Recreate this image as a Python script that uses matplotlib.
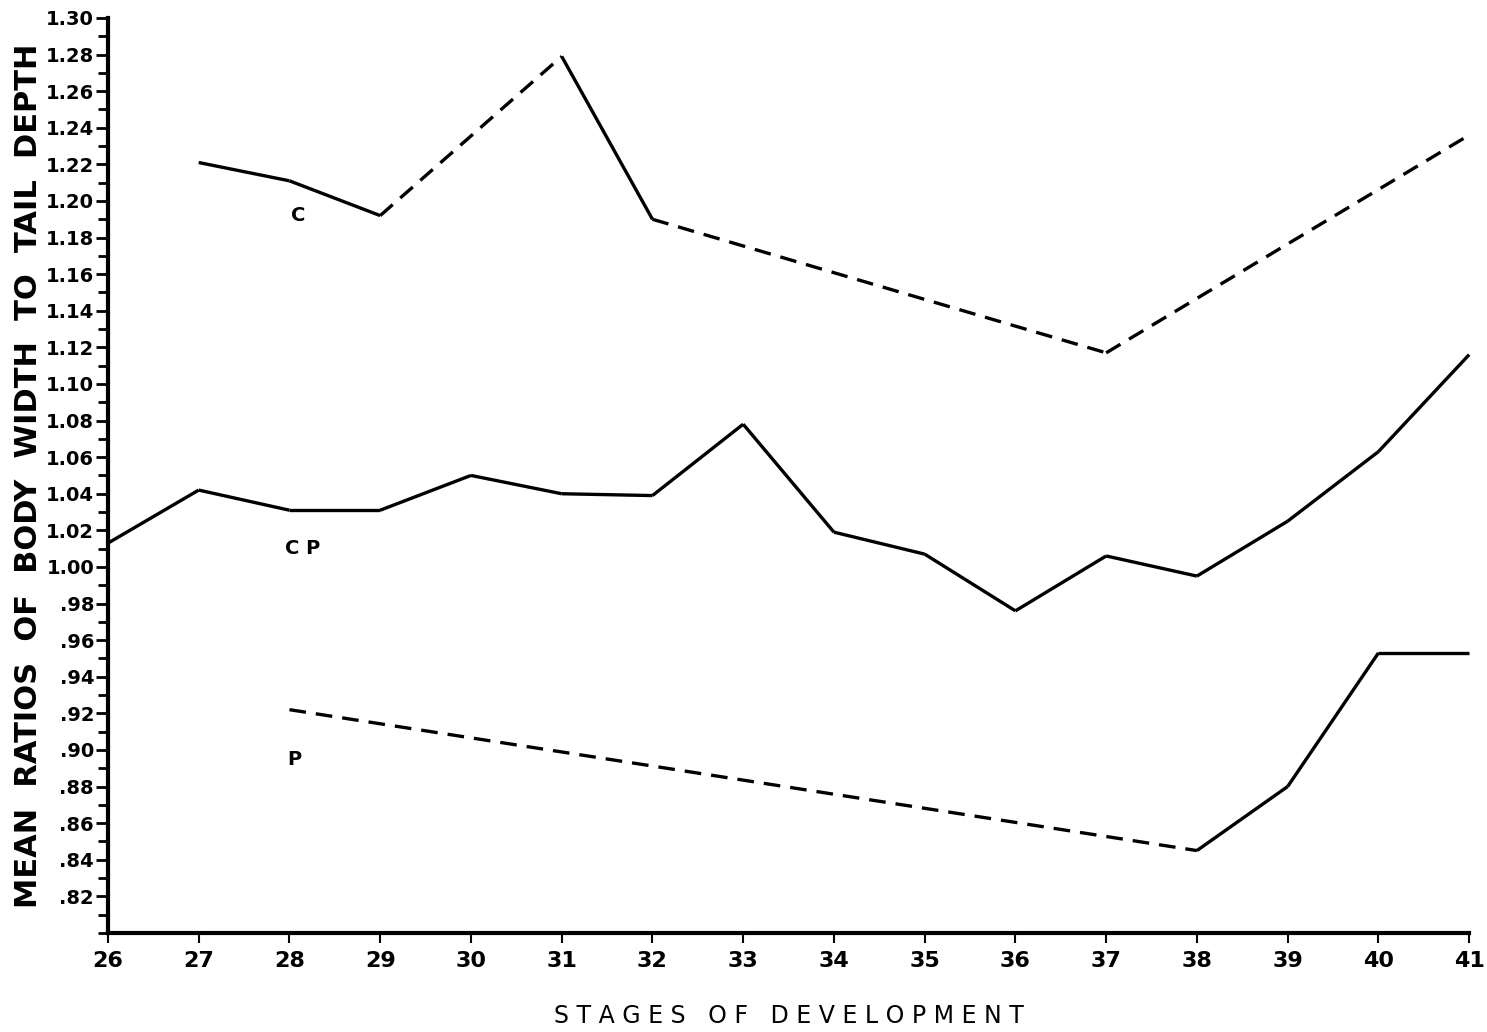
import numpy as np
import matplotlib
matplotlib.use('Agg')
import matplotlib.pyplot as plt
import matplotlib.ticker as ticker

# stages (x) and mean ratios (y)
c_stages = [27, 28, 29, 31, 32, 37, 41]
c_values = [1.221, 1.211, 1.192, 1.279, 1.190, 1.117, 1.236]
c_dashed = [False, False, True, False, True, True]

cp_stages = [26, 27, 28, 29, 30, 31, 32, 33, 34, 35, 36, 37, 38, 39, 40, 41]
cp_values = [1.013, 1.042, 1.031, 1.031, 1.050, 1.040, 1.039, 1.078,
             1.019, 1.007, 0.976, 1.006, 0.995, 1.025, 1.063, 1.116]
cp_dashed = [False] * 15

p_stages = [28, 38, 39, 40, 41]
p_values = [0.922, 0.845, 0.880, 0.953, 0.953]
p_dashed = [True, False, False, False]

# curve name labels
curve_names = ['C', 'C P', 'P']
name_x = [28.1, 28.15, 28.05]
name_y = [1.192, 1.010, 0.895]

ytick_vals = [1.30, 1.28, 1.26, 1.24, 1.22, 1.20, 1.18, 1.16, 1.14, 1.12, 1.10,
              1.08, 1.06, 1.04, 1.02, 1.00, 0.98, 0.96, 0.94, 0.92, 0.90,
              0.88, 0.86, 0.84, 0.82]
ytick_labels = ['1.30', '1.28', '1.26', '1.24', '1.22', '1.20', '1.18', '1.16',
                '1.14', '1.12', '1.10', '1.08', '1.06', '1.04', '1.02', '1.00',
                '.98', '.96', '.94', '.92', '.90', '.88', '.86', '.84', '.82']
xtick_vals = list(range(26, 42))


fig = plt.figure(figsize=(14.87, 10.32), dpi=100)
ax = fig.add_axes([0.0726, 0.096, 0.9154, 0.8866])


def draw_curve(xs, ys, dashed):
    # each segment solid or dashed
    for i in range(len(xs) - 1):
        ls = (0, (5, 3)) if dashed[i] else 'solid'
        ax.plot(xs[i:i + 2], ys[i:i + 2], color='black', lw=2.4,
                linestyle=ls, solid_joinstyle='miter', solid_capstyle='butt',
                dash_capstyle='butt', clip_on=False)


draw_curve(c_stages, c_values, c_dashed)
draw_curve(cp_stages, cp_values, cp_dashed)
draw_curve(p_stages, p_values, p_dashed)

for name, nx, ny in zip(curve_names, name_x, name_y):
    ax.text(nx, ny, name, fontsize=14, fontweight='bold', ha='center', va='center')

ax.set_xlim(26, 41)
ax.set_ylim(0.80, 1.30)

ax.set_xticks(xtick_vals)
ax.set_xticklabels([str(v) for v in xtick_vals], fontsize=16, fontweight='bold')
ax.set_yticks(ytick_vals)
ax.set_yticklabels(ytick_labels, fontsize=14, fontweight='bold')
ax.yaxis.set_minor_locator(ticker.MultipleLocator(0.01))

ax.tick_params(axis='y', which='major', direction='out', length=9, width=2, pad=1)
ax.tick_params(axis='y', which='minor', direction='out', length=7, width=2)
ax.tick_params(axis='x', which='major', direction='out', length=7, width=1.5, pad=6)

for s in ['top', 'right']:
    ax.spines[s].set_visible(False)
ax.spines['left'].set_linewidth(3)
ax.spines['bottom'].set_linewidth(3)

ax.set_ylabel('MEAN  RATIOS  OF  BODY  WIDTH  TO  TAIL  DEPTH',
              fontsize=22, fontweight='bold', labelpad=2)
ax.set_xlabel('S T A G E S   O F   D E V E L O P M E N T', fontsize=17,
              labelpad=24)

fig.savefig('out.png', dpi=100)
